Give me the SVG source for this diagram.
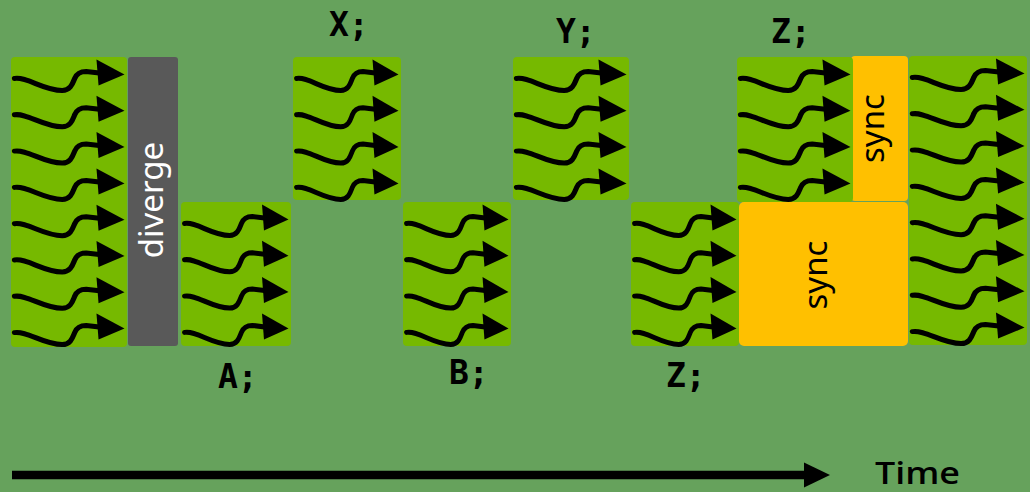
<svg xmlns="http://www.w3.org/2000/svg" xmlns:xlink="http://www.w3.org/1999/xlink" width="1030" height="492" viewBox="0 0 1030 492">
<style>
.bg{fill:#66a25c}
.work{fill:#76b900}
.div{fill:#595959}
.sync{fill:#ffc000}
.wl{fill:none;stroke:#000;stroke-width:5;stroke-linecap:round;stroke-linejoin:round}
.code{font-family:"DejaVu Sans Mono","Liberation Mono",monospace;font-weight:bold;font-size:33px;fill:#000}
.lbl{font-family:"Noto Sans","Open Sans",sans-serif;font-size:33px}
</style>
<defs>
<g id="w">
<path class="wl" d="M-106,4 C-94,2 -78,16 -60,16 C-52,16 -50,9 -48,4 C-46,-1 -42,-3 -37,-3 L-20,-1"/>
<path d="M-27,-15 L0,0 L-25,11 Z" fill="#000"/>
</g>
<g id="w4">
<use xlink:href="#w" href="#w"/>
<use xlink:href="#w" href="#w" y="36.3"/>
<use xlink:href="#w" href="#w" y="72.6"/>
<use xlink:href="#w" href="#w" y="108.9"/>
</g>
</defs>
<rect class="bg" x="0" y="0" width="1030" height="492"/>

<g id="warp-all">
<rect class="work" x="11" y="57" width="116" height="290" rx="4"/>
<g transform="translate(124.5,74.5) scale(1.038,1)">
<use xlink:href="#w4" href="#w4"/>
<use xlink:href="#w4" href="#w4" y="145.2"/>
</g>
</g>

<g id="diverge">
<rect class="div" x="128" y="57" width="50" height="289" rx="3"/>
<text class="lbl" font-size="35" fill="#fff" text-anchor="middle" transform="translate(163,200) rotate(-90)">diverge</text>
</g>

<g id="A">
<rect class="work" x="181" y="202" width="110" height="144" rx="4"/>
<g transform="translate(288.5,219.5) scale(0.981,1)"><use xlink:href="#w4" href="#w4"/></g>
<text class="code" x="218" y="388">A;</text>
</g>

<g id="X">
<rect class="work" x="293" y="57" width="108" height="143" rx="4"/>
<g transform="translate(398.5,74.5) scale(0.962,1)"><use xlink:href="#w4" href="#w4"/></g>
<text class="code" x="329" y="36">X;</text>
</g>

<g id="B">
<rect class="work" x="403" y="202" width="108" height="144" rx="4"/>
<g transform="translate(508.5,219.5) scale(0.962,1)"><use xlink:href="#w4" href="#w4"/></g>
<text class="code" x="449" y="384">B;</text>
</g>

<g id="Y">
<rect class="work" x="513" y="57" width="116" height="143" rx="4"/>
<g transform="translate(626.5,74.5) scale(1.038,1)"><use xlink:href="#w4" href="#w4"/></g>
<text class="code" x="556" y="43">Y;</text>
</g>

<g id="Z-lower">
<rect class="work" x="631" y="202" width="108" height="144" rx="4"/>
<g transform="translate(736.5,219.5) scale(0.962,1)"><use xlink:href="#w4" href="#w4"/></g>
<text class="code" x="666" y="387">Z;</text>
</g>

<g id="sync-small">
<rect class="sync" x="851" y="56" width="57" height="145" rx="4"/>
<text class="lbl" fill="#000" text-anchor="middle" transform="translate(884,128.5) rotate(-90)">sync</text>
</g>

<g id="Z-upper">
<rect class="work" x="737" y="57" width="116" height="145" rx="4"/>
<g transform="translate(850.5,74.5) scale(1.038,1)"><use xlink:href="#w4" href="#w4"/></g>
<text class="code" x="771" y="42.5">Z;</text>
</g>

<g id="sync-big">
<rect class="sync" x="739" y="202" width="169" height="144" rx="5"/>
<text class="lbl" fill="#000" text-anchor="middle" transform="translate(827,275) rotate(-90)">sync</text>
</g>

<g id="warp-reconverged">
<rect class="work" x="909" y="56" width="118" height="289" rx="4"/>
<g transform="translate(1024.5,73.5) scale(1.057,1)">
<use xlink:href="#w4" href="#w4"/>
<use xlink:href="#w4" href="#w4" y="145.2"/>
</g>
</g>

<g id="connectors">
<line x1="12" y1="475" x2="806" y2="475" stroke="#000" stroke-width="8.5"/>
<path d="M804,462.5 L830,475 L804,487.5 Z" fill="#000"/>
</g>
<g id="time-label">
<text x="875" y="484" font-family="'Open Sans','Noto Sans',sans-serif" font-weight="600" font-size="31" textLength="85" lengthAdjust="spacingAndGlyphs" fill="#000">Time</text>
</g>
</svg>
